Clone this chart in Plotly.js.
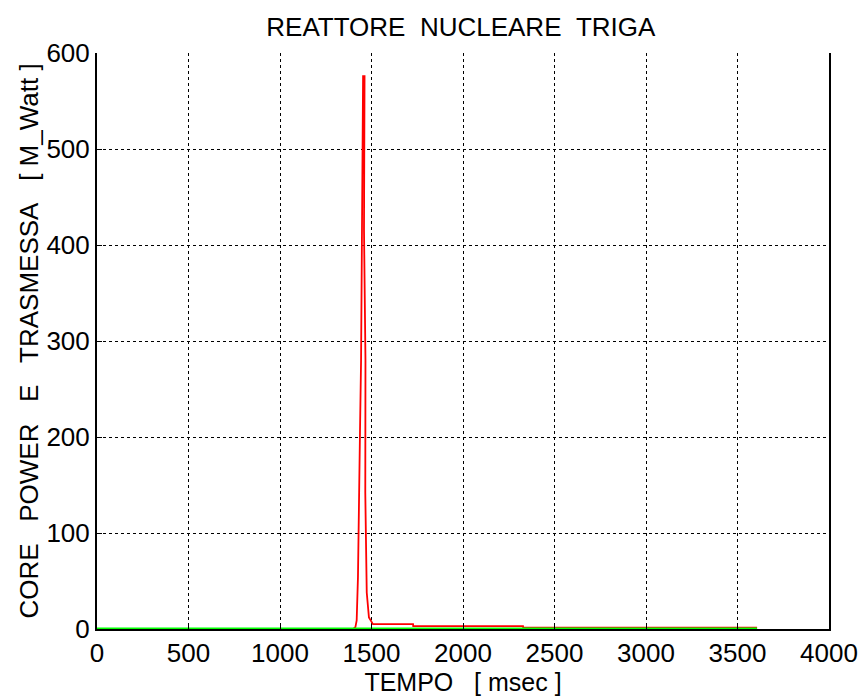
<!DOCTYPE html>
<html>
<head>
<meta charset="utf-8">
<script src="https://cdn.plot.ly/plotly-3.0.1.min.js"></script>
<style>html,body{margin:0;padding:0;background:#fff;}#chart{width:863px;height:699px;}</style>
</head>
<body>
<div id="chart"></div>
<script>
// Core power (red)
const coreTime  = [1400, 1412, 1419, 1426, 1437, 1443, 1448, 1454, 1462, 1459, 1467, 1466, 1474, 1486, 1508, 1727, 1728, 2328, 2329, 3607];
const corePower = [0,    2,    9,    54,   204,  280,  416,  576,  576,  416,  280,  142,  38,   12,   5,    5,    3,    3,    1.5,  1.5];
// Transmitted power (green)
const transTime  = [0, 3607];
const transPower = [0.3, 0.3];

const xTicks = [0, 500, 1000, 1500, 2000, 2500, 3000, 3500, 4000];
const yTicks = [0, 100, 200, 300, 400, 500, 600];

const font = 'Liberation Sans, Arial, sans-serif';
const sp = '\u00a0';
const gap = sp + sp + sp;

const traces = [
  {x: coreTime, y: corePower, type: 'scatter', mode: 'lines', line: {color: '#ff0000', width: 1.8}, hoverinfo: 'none'},
  {x: transTime, y: transPower, type: 'scatter', mode: 'lines', line: {color: '#00ff00', width: 2.2}, hoverinfo: 'none'}
];

const layout = {
  width: 863, height: 699,
  margin: {l: 97, r: 34, t: 53, b: 70},
  paper_bgcolor: '#fff', plot_bgcolor: '#fff',
  showlegend: false,
  font: {family: font, color: '#000', size: 26},
  title: {text: 'REATTORE' + sp + sp + 'NUCLEARE' + sp + sp + 'TRIGA', font: {family: font, size: 26, color: '#000'}, x: 0.534, xanchor: 'center', y: 0.962, yanchor: 'middle'},
  xaxis: {
    range: [0, 4000], tickvals: xTicks, ticktext: xTicks.map(String), automargin: false,
    showgrid: true, gridcolor: '#000', griddash: 'dot', gridwidth: 1,
    showline: true, linecolor: '#000', linewidth: 2, mirror: false,
    ticks: 'inside', ticklen: 5, tickcolor: '#000', tickwidth: 1,
    zeroline: false, tickfont: {size: 26, family: font},
    title: {text: 'TEMPO' + sp + sp + sp + '[ msec ]', font: {size: 25, family: font}, standoff: 0}
  },
  yaxis: {
    range: [0, 600], tickvals: yTicks, ticktext: yTicks.map(String), automargin: false,
    showgrid: true, gridcolor: '#000', griddash: 'dot', gridwidth: 1,
    showline: true, linecolor: '#000', linewidth: 2, mirror: true,
    ticks: 'inside', ticklen: 5, tickcolor: '#000', tickwidth: 1,
    zeroline: false, tickfont: {size: 26, family: font},
    title: {text: 'CORE' + gap + 'POWER' + gap + 'E' + gap + 'TRASMESSA' + gap + '[ M_Watt ]', font: {size: 26, family: font}, standoff: 0}
  }
};

Plotly.newPlot('chart', traces, layout, {staticPlot: true, displayModeBar: false});
</script>
</body>
</html>
